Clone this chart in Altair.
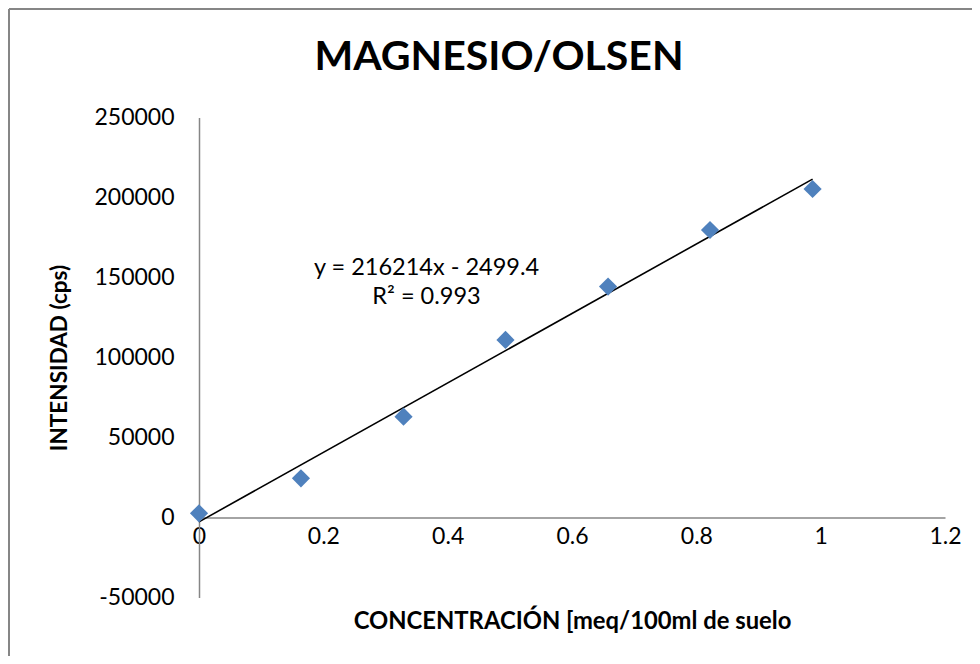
import altair as alt
import pandas as pd

# ---- data ----
conc = [0.0, 0.164, 0.329, 0.493, 0.658, 0.822, 0.987]
intens = [2600, 24500, 63000, 111000, 144300, 179700, 205300]
x_ticks = [0, 0.2, 0.4, 0.6, 0.8, 1, 1.2]
y_ticks = [-50000, 0, 50000, 100000, 150000, 200000, 250000]
eq_lines = ["y = 216214x - 2499.4", "R² = 0.993"]
eq_x = [0.366, 0.366]
eq_y = [156000, 138000]
chart_title = ["MAGNESIO/OLSEN"]

df = pd.DataFrame({"x": conc, "y": intens})
eq_df = pd.DataFrame({"x": eq_x, "y": eq_y, "t": eq_lines})
one = pd.DataFrame({"t": chart_title})

W, H = 746, 480
FONT = "Lato"
GRAY = "#868686"

xs = alt.Scale(domain=[0, 1.2], nice=False, zero=False)
ys = alt.Scale(domain=[-50000, 250000], nice=False, zero=False)

x_axis = alt.Axis(
    values=x_ticks, labelExpr="'' + datum.value", ticks=False, grid=False,
    domainColor=GRAY, domainWidth=1.5, offset=-(H * 50000 / 300000),
    labelPadding=8, labelFontSize=23, labelFont=FONT, labelColor="#000000",
    labelFlush=False, labelOverlap=False,
    title="CONCENTRACIÓN [meq/100ml de suelo", titleFont=FONT, titleFontSize=23.8,
    titleFontWeight="bold", titleColor="#000000", titlePadding=61,
)
y_axis = alt.Axis(
    values=y_ticks, labelExpr="'' + datum.value", ticks=False, grid=False,
    domainColor=GRAY, domainWidth=1.5, labelPadding=25, labelFontSize=23,
    labelFont=FONT, labelColor="#000000", labelFlush=False, labelOverlap=False,
    title="INTENSIDAD (cps)", titleFont=FONT, titleFontSize=22.5,
    titleFontWeight="bold", titleColor="#000000", titlePadding=22,
)

base = alt.Chart(df)

trend = base.transform_regression("x", "y").mark_line(
    color="#000000", strokeWidth=1.6
).encode(
    x=alt.X("x:Q", scale=xs, axis=x_axis),
    y=alt.Y("y:Q", scale=ys, axis=y_axis),
)

points = base.mark_point(
    shape="diamond", filled=True, size=330, color="#4F81BD", opacity=1
).encode(
    x=alt.X("x:Q", scale=xs),
    y=alt.Y("y:Q", scale=ys),
)

eq_text = alt.Chart(eq_df).mark_text(
    font=FONT, fontSize=23.5, color="#000000", align="center", baseline="middle"
).encode(
    x=alt.X("x:Q", scale=xs),
    y=alt.Y("y:Q", scale=ys),
    text="t:N",
)

title_text = alt.Chart(one).mark_text(
    font=FONT, fontSize=41, fontWeight="bold", color="#000000",
    align="center", baseline="alphabetic", clip=False,
).encode(x=alt.value(300), y=alt.value(-47.5), text="t:N")

border_left = alt.Chart(one).mark_rule(color=GRAY, strokeWidth=2, clip=False).encode(
    x=alt.value(-190), y=alt.value(-108.5), y2=alt.value(H + 70)
)
border_top = alt.Chart(one).mark_rule(color=GRAY, strokeWidth=2, clip=False).encode(
    x=alt.value(-190), x2=alt.value(W + 40), y=alt.value(-108.5)
)

chart = alt.layer(trend, points, eq_text, title_text, border_left, border_top).properties(
    width=W,
    height=H,
    autosize=alt.AutoSizeParams(type="none"),
    padding={"left": 191, "top": 109.5, "right": 27, "bottom": 58.5},
).configure(
    background="#ffffff",
    view=alt.ViewConfig(stroke="transparent", strokeWidth=0),
)

chart.save("out.html", embed_options={"renderer": "svg", "actions": False})
